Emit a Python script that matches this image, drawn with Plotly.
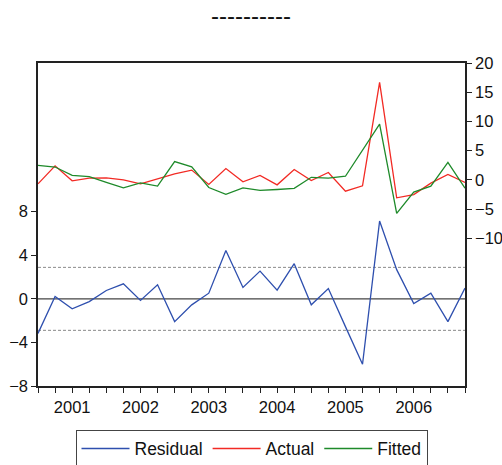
import plotly.graph_objects as go

# Quarterly sample 2000Q3 - 2006Q4
quarters = [f"{y}Q{q}" for y in range(2000, 2007) for q in range(1, 5)][2:]

actual = [-0.69, 2.40, -0.17, 0.30, 0.34, 0.00, -0.69, 0.22, 1.03, 1.66,
          -0.80, 1.94, -0.34, 0.74, -0.86, 1.77, -0.12, 1.25, -1.94, -1.03,
          16.68, -3.08, -2.52, -0.57, 0.91, -0.46]
fitted = [2.48, 2.19, 0.75, 0.55, -0.43, -1.38, -0.54, -1.07, 3.12, 2.21,
          -1.32, -2.49, -1.39, -1.81, -1.66, -1.46, 0.43, 0.30, 0.61, 4.97,
          9.54, -5.76, -2.09, -1.09, 3.00, -1.44]
residual = [-3.17, 0.21, -0.92, -0.25, 0.77, 1.38, -0.15, 1.29, -2.09, -0.55,
            0.52, 4.43, 1.05, 2.55, 0.80, 3.23, -0.55, 0.95, -2.55, -6.00,
            7.14, 2.68, -0.43, 0.52, -2.09, 0.98]
se_band = 2.89  # +/- one standard error of the regression

year_labels = [q[:4] if q.endswith("Q1") else "" for q in quarters]
left_ticks = [-8, -4, 0, 4, 8]
right_ticks = [-10, -5, 0, 5, 10, 15, 20]

FONT = "Liberation Sans, Arial, sans-serif"
FS = 16.5

fig = go.Figure()
fig.add_trace(go.Scatter(x=quarters, y=residual, name="Residual", mode="lines",
                         line=dict(color="#2E4FAE", width=1.3), yaxis="y"))
fig.add_trace(go.Scatter(x=quarters, y=actual, name="Actual", mode="lines",
                         line=dict(color="#F22A24", width=1.3), yaxis="y2"))
fig.add_trace(go.Scatter(x=quarters, y=fitted, name="Fitted", mode="lines",
                         line=dict(color="#1E8A2A", width=1.3), yaxis="y2"))

# zero line and standard-error band on the residual axis
fig.add_shape(type="line", xref="paper", x0=0, x1=1, yref="y", y0=0, y1=0,
              line=dict(color="#444444", width=1.2), layer="below")
for s in (se_band, -se_band):
    fig.add_shape(type="line", xref="paper", x0=0, x1=1, yref="y", y0=s, y1=s,
                  line=dict(color="#8a8a8a", width=1, dash="3px,2px"), layer="below")

axis_common = dict(showgrid=False, zeroline=False, ticks="outside", ticklen=5,
                   automargin=False, tickcolor="#222222",
                   tickfont=dict(family=FONT, size=FS, color="#111111"))

fig.update_layout(
    width=502, height=465,
    margin=dict(l=38, r=37, t=63, b=79, autoexpand=False),
    paper_bgcolor="white", plot_bgcolor="white",
    font=dict(family=FONT, size=FS, color="#111111"),
    title=dict(text="----------", x=0.5, xanchor="center", y=0.985, yanchor="top",
               font=dict(family=FONT, size=24, color="#111111")),
    xaxis=dict(type="category", range=[0, len(quarters) - 1],
               tickmode="array", tickvals=quarters, ticktext=year_labels,
               showline=True, linecolor="#222222", linewidth=1.5, mirror=True,
               **axis_common),
    yaxis=dict(range=[-8, 21.65], tickvals=left_ticks,
               showline=True, linecolor="#222222", linewidth=1.5,
               **axis_common),
    yaxis2=dict(range=[-35.3, 20], tickvals=right_ticks, overlaying="y", side="right",
                showline=True, linecolor="#222222", linewidth=1.5,
                **axis_common),
    legend=dict(orientation="h", x=0.5, xanchor="center", y=-0.135, yanchor="top",
                bordercolor="#444444", borderwidth=1, bgcolor="white",
                font=dict(family=FONT, size=17.5, color="#111111"),
                itemwidth=48),
    showlegend=True,
)

fig.write_html("out.html")
